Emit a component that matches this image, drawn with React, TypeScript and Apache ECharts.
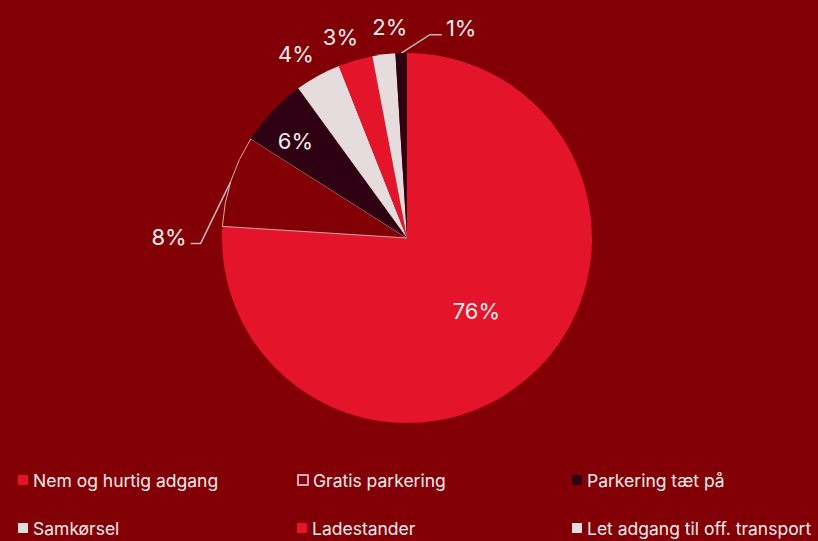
import React, { useEffect, useRef } from 'react';
import * as echarts from 'echarts';

const categories = [
  'Nem og hurtig adgang',
  'Gratis parkering',
  'Parkering tæt på',
  'Samkørsel',
  'Ladestander',
  'Let adgang til off. transport',
  'Andet',
];
const values = [76, 8, 6, 4, 3, 2, 1];
const legendNames = categories.slice(0, 6);

const BG = '#820005';
const RED = '#E4142B';
const DARK = '#2E0012';
const LIGHT = '#E6DCDD';
const sliceColors = [RED, BG, DARK, LIGHT, RED, LIGHT, DARK];

// label placement: 'inside' offset from default centre, or 'outside' offset from the slice-edge anchor
const labelPlacement: any[] = [
  { kind: 'inside', ox: 4, oy: 3 },
  { kind: 'line', side: 'left', ox: -62, oy: 56 },
  { kind: 'inside', ox: -42, oy: -32 },
  { kind: 'free', ox: -22, oy: -22 },
  { kind: 'free', ox: -15, oy: -23 },
  { kind: 'free', ox: 6, oy: -27 },
  { kind: 'line', side: 'right', ox: 60, oy: -25 },
];

const legendCols = [18, 297, 572];
const legendRows = [471, 519];

export default function App() {
  const ref = useRef<HTMLDivElement>(null);
  useEffect(() => {
    document.body.style.margin = '0';
    const chart = echarts.init(ref.current!, null, { renderer: 'svg' });
    const data = categories.map((name, i) => {
      const item: any = {
        name,
        value: values[i],
        itemStyle: { color: sliceColors[i] },
      };
      if (i === 1) {
        item.itemStyle.borderColor = '#D9A8AC';
        item.itemStyle.borderWidth = 1;
      }
      const pl = labelPlacement[i];
      if (pl && pl.kind === 'inside') {
        item.label = { position: 'inside' };
        item.labelLine = { show: false };
      }
      if (pl && pl.kind === 'free') {
        item.labelLine = { show: true, lineStyle: { opacity: 0 } };
      }
      return item;
    });

    const legends = legendNames.map((name, i) => ({
      data: [name],
      left: legendCols[i % 3],
      top: legendRows[Math.floor(i / 3)],
      orient: 'horizontal',
      padding: 0,
      icon: 'rect',
      itemWidth: 10,
      itemHeight: 10,
      selectedMode: false,
      textStyle: {
        color: '#F4ECEC',
        fontSize: 17.5,
        fontFamily: 'Inter, Lato, sans-serif',
      },
    }));

    chart.setOption({
      animation: false,
      backgroundColor: BG,
      legend: legends,
      series: [
        {
          type: 'pie',
          center: [407, 238],
          radius: 185,
          startAngle: 90,
          clockwise: true,
          avoidLabelOverlap: false,
          data,
          label: {
            show: true,
            position: 'outside',
            formatter: '{c}%',
            color: '#F4ECEC',
            fontSize: 22,
            fontFamily: 'Inter, Lato, sans-serif',
          },
          labelLine: {
            show: true,
            length: 10,
            length2: 10,
            minTurnAngle: 0,
            maxSurfaceAngle: 180,
            lineStyle: { color: '#C9B5B7', width: 1.5 },
          },
          labelLayout: (p: any) => {
            const pl = labelPlacement[p.dataIndex];
            if (!pl) return {};
            const r = p.labelRect;
            const w = r.width;
            const h = r.height;
            if (pl.kind === 'inside') {
              return {
                x: r.x + w / 2 + pl.ox,
                y: r.y + h / 2 + pl.oy,
                align: 'center',
                verticalAlign: 'middle',
              };
            }
            const pts = p.labelLinePoints;
            if (!pts) return {};
            const p0 = pts[0];
            const cx = p0[0] + pl.ox;
            const cy = p0[1] + pl.oy;
            if (pl.kind === 'free') {
              return {
                x: cx,
                y: cy,
                align: 'center',
                verticalAlign: 'middle',
                labelLinePoints: [p0, p0, p0],
              };
            }
            const lineY = cy + h * 0.3;
            if (pl.side === 'left') {
              const endX = cx + w / 2 + 4;
              return {
                x: cx,
                y: cy,
                align: 'center',
                verticalAlign: 'middle',
                labelLinePoints: [p0, [endX + 10, lineY], [endX, lineY]],
              };
            }
            const endX = cx - w / 2 - 4;
            return {
              x: cx,
              y: cy,
              align: 'center',
              verticalAlign: 'middle',
              labelLinePoints: [p0, [endX - 12, lineY], [endX, lineY]],
            };
          },
        },
      ],
    });
    return () => chart.dispose();
  }, []);
  return <div ref={ref} style={{ width: 818, height: 541 }} />;
}
